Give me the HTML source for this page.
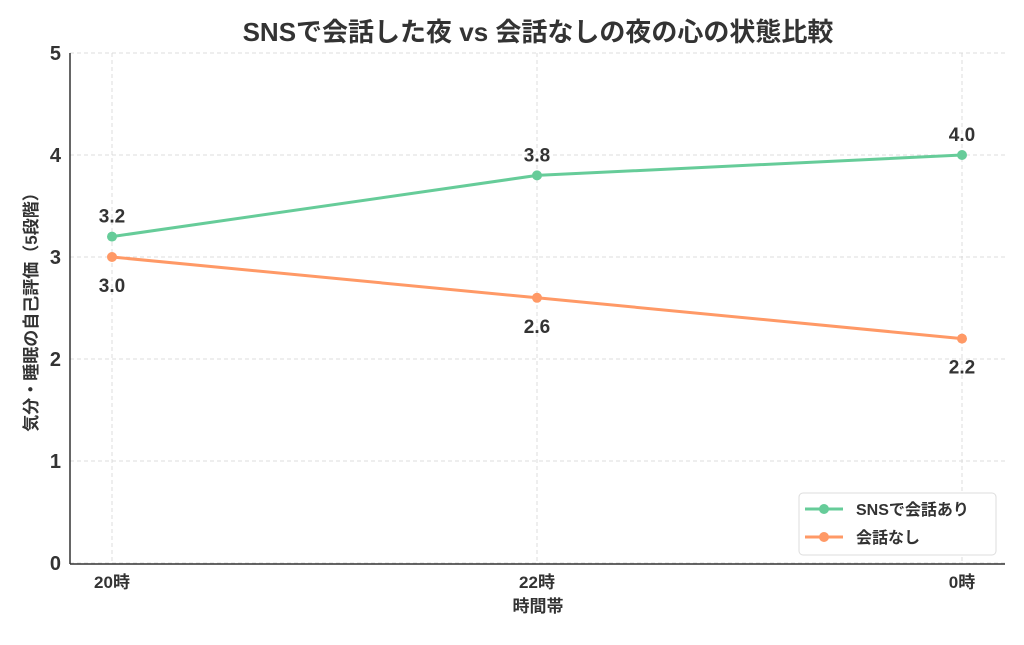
<!DOCTYPE html>
<html><head><meta charset="utf-8"><style>
body{margin:0;background:#fff}
svg text{font-family:"Liberation Sans","Noto Sans CJK JP",sans-serif;fill:#333}
</style></head><body>
<svg width="1024" height="640" id="c">
<text x="538" y="41" text-anchor="middle" font-size="26" font-weight="bold">SNSで会話した夜 vs 会話なしの夜の心の状態比較</text>
<text x="538" y="612" text-anchor="middle" font-size="17" font-weight="bold">時間帯</text>
<text transform="translate(37,308) rotate(-90)" text-anchor="middle" font-size="17" font-weight="bold">気分・睡眠の自己評価（5段階）</text>
<g id="grid"></g><g id="axes"></g><g id="series"></g>
<g>
<rect x="799" y="493" width="197" height="62" rx="4" fill="#fff" stroke="#ddd"/>
<line x1="805" y1="509" x2="843" y2="509" stroke="#66cc99" stroke-width="3"/><circle cx="824" cy="509" r="5" fill="#66cc99"/>
<text x="856" y="515" font-size="16" font-weight="bold">SNSで会話あり</text>
<line x1="805" y1="537" x2="843" y2="537" stroke="#ff9966" stroke-width="3"/><circle cx="824" cy="537" r="5" fill="#ff9966"/>
<text x="856" y="543" font-size="16" font-weight="bold">会話なし</text>
</g>
</svg>
<script>
const categories=["20時","22時","0時"];
const snsValues=[3.2,3.8,4.0];
const noneValues=[3.0,2.6,2.2];
const yTicks=[0,1,2,3,4,5];
const NS="http://www.w3.org/2000/svg";
const X=i=>112+i*425, Y=v=>563-v*102;
function mk(t,a,p){const e=document.createElementNS(NS,t);for(const k in a)e.setAttribute(k,a[k]);p.appendChild(e);return e;}
const g=document.getElementById('grid'),ax=document.getElementById('axes'),s=document.getElementById('series');
yTicks.forEach(v=>{
 const l=mk('line',{x1:70,x2:1005,y1:Y(v),y2:Y(v),stroke:'#d4d4d4','stroke-width':0.8,'stroke-dasharray':'4,3'},g);
 
 
 const t=mk('text',{x:61,y:Y(v)+7,'text-anchor':'end','font-size':20,'font-weight':'bold'},ax);t.textContent=v;
 
 
});
categories.forEach((c,i)=>{
 const l=mk('line',{x1:X(i),x2:X(i),y1:53,y2:563,stroke:'#d4d4d4','stroke-width':0.8,'stroke-dasharray':'4,3'},g);
 
 
 const t=mk('text',{x:X(i),y:588,'text-anchor':'middle','font-size':17,'font-weight':'bold'},ax);t.textContent=c;
 
 
});
mk('line',{x1:70,x2:70,y1:53,y2:564,stroke:'#333','stroke-width':1.5},ax);
mk('line',{x1:70,x2:1005,y1:564,y2:564,stroke:'#333','stroke-width':1.5},ax);
function series(vals,color,name,off){
 const p=mk('polyline',{points:vals.map((v,i)=>X(i)+','+Y(v)).join(' '),fill:'none',stroke:color,'stroke-width':3},s);
 
 
 vals.forEach((v,i)=>{
  const c=mk('circle',{cx:X(i),cy:Y(v),r:5,fill:color},s);
  
  
  const t=mk('text',{x:X(i),y:Y(v)+off,'text-anchor':'middle','font-size':19,'font-weight':'bold'},s);t.textContent=v.toFixed(1);
  
  
 });
}
series(snsValues,'#66cc99','sns',-14);
series(noneValues,'#ff9966','none',35);
</script>
</body></html>
